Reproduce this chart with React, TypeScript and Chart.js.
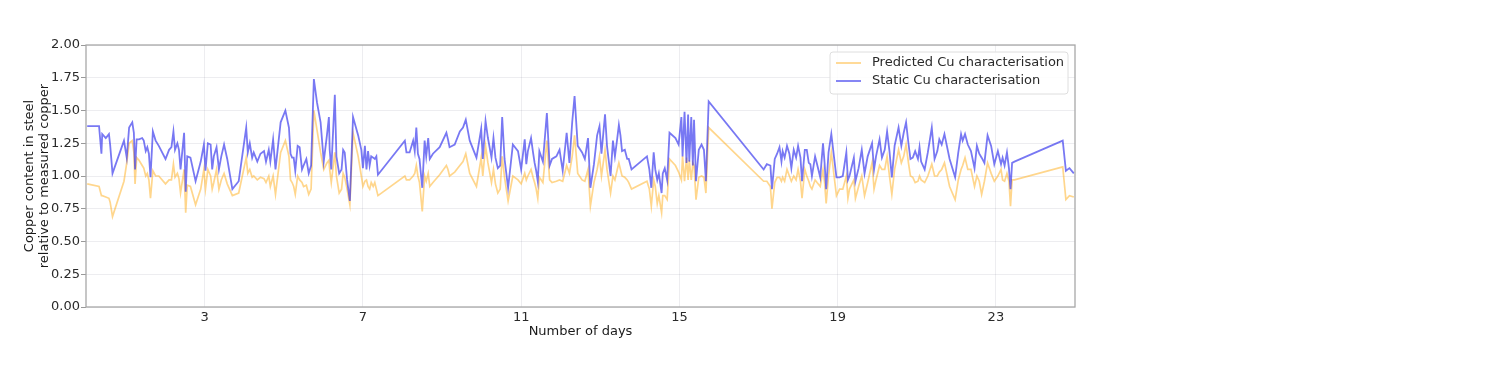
import React, { useEffect, useRef } from "react";
import { Chart, registerables } from "chart.js";

Chart.register(...registerables);

// Time axis (days) shared by both series
const days = [
  0.03, 0.33, 0.39, 0.41, 0.5, 0.58, 0.61, 0.67, 0.96, 1.03,
  1.09, 1.17, 1.21, 1.24, 1.28, 1.34, 1.42, 1.46, 1.51, 1.55,
  1.59, 1.63, 1.69, 1.76, 1.84, 2.01, 2.1, 2.16, 2.21, 2.25,
  2.31, 2.35, 2.39, 2.48, 2.52, 2.56, 2.64, 2.77, 2.9, 2.98,
  3.02, 3.08, 3.15, 3.19, 3.23, 3.3, 3.36, 3.42, 3.49, 3.57,
  3.7, 3.86, 4.05, 4.09, 4.14, 4.2, 4.24, 4.33, 4.41, 4.5,
  4.55, 4.62, 4.66, 4.73, 4.79, 4.92, 5.04, 5.13, 5.17, 5.21,
  5.25, 5.29, 5.35, 5.4, 5.46, 5.5, 5.57, 5.63, 5.69, 5.76,
  5.84, 5.93, 6.01, 6.09, 6.14, 6.16, 6.2, 6.29, 6.33, 6.4,
  6.46, 6.5, 6.54, 6.6, 6.67, 6.75, 6.88, 6.96, 7.0, 7.05,
  7.09, 7.13, 7.17, 7.21, 7.26, 7.3, 7.34, 7.38, 8.06, 8.1,
  8.18, 8.27, 8.31, 8.35, 8.39, 8.43, 8.5, 8.56, 8.6, 8.65,
  8.69, 8.77, 8.94, 9.11, 9.15, 9.19, 9.32, 9.45, 9.53, 9.6,
  9.7, 9.87, 9.99, 10.03, 10.1, 10.16, 10.25, 10.3, 10.35, 10.41,
  10.47, 10.52, 10.58, 10.67, 10.79, 10.92, 11.0, 11.09, 11.13, 11.17,
  11.25, 11.3, 11.34, 11.38, 11.42, 11.46, 11.55, 11.65, 11.72, 11.78,
  11.89, 11.97, 12.05, 12.15, 12.22, 12.29, 12.35, 12.43, 12.54, 12.61,
  12.69, 12.75, 12.84, 12.92, 12.98, 13.03, 13.12, 13.17, 13.26, 13.32,
  13.37, 13.43, 13.47, 13.51, 13.55, 13.62, 13.68, 13.72, 13.79, 14.18,
  14.24, 14.29, 14.35, 14.39, 14.44, 14.48, 14.55, 14.58, 14.63, 14.69,
  14.75, 14.9, 14.98, 15.05, 15.08, 15.13, 15.18, 15.22, 15.25, 15.3,
  15.34, 15.37, 15.42, 15.49, 15.56, 15.62, 15.67, 15.74, 17.13, 17.21,
  17.3, 17.34, 17.41, 17.47, 17.53, 17.58, 17.61, 17.66, 17.72, 17.78,
  17.83, 17.89, 17.95, 18.0, 18.06, 18.1, 18.17, 18.22, 18.27, 18.31,
  18.35, 18.43, 18.48, 18.56, 18.63, 18.67, 18.71, 18.77, 18.84, 18.91,
  18.97, 19.05, 19.13, 19.22, 19.26, 19.3, 19.41, 19.45, 19.53, 19.61,
  19.68, 19.76, 19.87, 19.92, 19.97, 20.06, 20.12, 20.19, 20.25, 20.31,
  20.37, 20.44, 20.54, 20.61, 20.67, 20.73, 20.79, 20.84, 20.9, 20.96,
  21.03, 21.07, 21.11, 21.2, 21.28, 21.38, 21.45, 21.52, 21.57, 21.63,
  21.7, 21.83, 21.97, 22.05, 22.12, 22.16, 22.22, 22.29, 22.37, 22.46,
  22.52, 22.58, 22.64, 22.71, 22.79, 22.88, 22.96, 23.05, 23.13, 23.17,
  23.22, 23.28, 23.33, 23.37, 23.41, 23.47, 24.69, 24.77, 24.86, 24.97,
];

// Static Cu characterisation (blue)
const staticCu = [
  1.38, 1.38, 1.17, 1.32, 1.29, 1.32, 1.24, 1.02, 1.27, 1.14,
  1.37, 1.41, 1.33, 1.05, 1.28, 1.28, 1.29, 1.27, 1.19, 1.22,
  1.17, 0.99, 1.34, 1.27, 1.23, 1.13, 1.2, 1.22, 1.34, 1.2,
  1.25, 1.2, 1.05, 1.33, 0.88, 1.15, 1.14, 0.96, 1.11, 1.24,
  1.04, 1.25, 1.24, 1.05, 1.15, 1.22, 1.05, 1.15, 1.24, 1.13,
  0.9, 0.96, 1.37, 1.18, 1.25, 1.14, 1.18, 1.11, 1.17, 1.19,
  1.11, 1.2, 1.11, 1.28, 1.05, 1.41, 1.5, 1.37, 1.17, 1.14,
  1.14, 1.04, 1.23, 1.22, 1.05, 1.08, 1.13, 1.02, 1.08, 1.74,
  1.56, 1.41, 1.11, 1.31, 1.45, 1.2, 1.05, 1.62, 1.15, 1.02,
  1.05, 1.2, 1.18, 0.97, 0.81, 1.45, 1.31, 1.2, 1.06, 1.23,
  1.05, 1.19, 1.08, 1.15, 1.14, 1.13, 1.15, 1.01, 1.27, 1.18,
  1.18, 1.27, 1.19, 1.37, 1.17, 1.13, 0.91, 1.27, 1.15, 1.29,
  1.13, 1.17, 1.22, 1.33, 1.28, 1.22, 1.24, 1.34, 1.37, 1.43,
  1.27, 1.14, 1.36, 1.13, 1.42, 1.29, 1.14, 1.29, 1.14, 1.06,
  1.08, 1.45, 1.13, 0.91, 1.24, 1.19, 1.05, 1.28, 1.09, 1.19,
  1.29, 1.18, 1.1, 1.04, 0.96, 1.19, 1.11, 1.48, 1.08, 1.13,
  1.15, 1.2, 1.04, 1.33, 1.1, 1.41, 1.61, 1.23, 1.18, 1.13,
  1.29, 0.91, 1.09, 1.31, 1.38, 1.17, 1.47, 1.23, 1.0, 1.27,
  1.15, 1.29, 1.39, 1.31, 1.19, 1.2, 1.13, 1.13, 1.05, 1.15,
  1.05, 0.91, 1.18, 1.05, 0.97, 1.02, 0.87, 1.02, 1.06, 0.97,
  1.33, 1.29, 1.24, 1.45, 1.15, 1.49, 1.1, 1.47, 1.11, 1.45,
  1.08, 1.43, 0.96, 1.2, 1.24, 1.2, 0.96, 1.57, 1.05, 1.09,
  1.08, 0.9, 1.13, 1.17, 1.22, 1.11, 1.19, 1.14, 1.23, 1.17,
  1.06, 1.2, 1.14, 1.23, 1.14, 0.96, 1.2, 1.2, 1.1, 1.09,
  1.0, 1.15, 1.09, 0.99, 1.25, 1.1, 0.9, 1.18, 1.32, 1.14,
  0.99, 0.99, 1.0, 1.18, 0.97, 1.0, 1.14, 0.96, 1.06, 1.2,
  1.02, 1.15, 1.25, 1.05, 1.15, 1.28, 1.14, 1.2, 1.34, 1.19,
  0.99, 1.23, 1.37, 1.23, 1.33, 1.41, 1.25, 1.13, 1.14, 1.19,
  1.13, 1.22, 1.11, 1.05, 1.18, 1.37, 1.13, 1.19, 1.28, 1.24,
  1.32, 1.13, 0.99, 1.18, 1.32, 1.27, 1.32, 1.24, 1.19, 1.06,
  1.23, 1.17, 1.14, 1.1, 1.31, 1.23, 1.09, 1.19, 1.09, 1.14,
  1.08, 1.18, 1.06, 0.9, 1.1, 1.11, 1.27, 1.04, 1.06, 1.02,
];

// Predicted Cu characterisation (orange)
const predictedCu = [
  0.94, 0.92, 0.85, 0.85, 0.84, 0.83, 0.8, 0.69, 0.96, 1.1,
  1.25, 1.27, 1.18, 0.94, 1.14, 1.12, 1.08, 1.06, 1.0, 1.02,
  0.97, 0.83, 1.04, 1.0, 1.0, 0.94, 0.97, 0.97, 1.09, 0.99,
  1.02, 0.98, 0.87, 1.05, 0.72, 0.93, 0.92, 0.78, 0.9, 1.05,
  0.9, 1.05, 1.0, 0.9, 0.95, 1.05, 0.9, 0.97, 1.02, 0.94,
  0.85, 0.87, 1.14, 1.02, 1.05, 0.99, 1.0, 0.97, 0.99, 0.98,
  0.95, 1.0, 0.92, 1.0, 0.86, 1.18, 1.27, 1.15, 0.97, 0.95,
  0.92, 0.86, 1.0, 0.97, 0.95, 0.92, 0.93, 0.86, 0.9, 1.5,
  1.35, 1.18, 1.05, 1.1, 1.12, 1.05, 0.95, 1.18, 1.0, 0.87,
  0.9, 1.02, 0.99, 0.9, 0.78, 1.33, 1.15, 1.0, 0.92, 0.96,
  0.97, 0.92, 0.9, 0.95, 0.92, 0.95, 0.9, 0.85, 1.0, 0.97,
  0.97, 1.0, 1.02, 1.08, 1.0, 0.95, 0.73, 1.0, 0.96, 1.02,
  0.92, 0.95, 1.01, 1.08, 1.05, 1.0, 1.03, 1.08, 1.11, 1.17,
  1.02, 0.92, 1.14, 1.0, 1.23, 1.1, 0.95, 1.05, 0.94, 0.87,
  0.9, 1.15, 0.99, 0.81, 1.0, 0.97, 0.94, 1.02, 0.97, 1.0,
  1.05, 0.99, 0.95, 0.9, 0.83, 0.99, 0.95, 1.27, 0.97, 0.95,
  0.96, 0.97, 0.96, 1.08, 1.02, 1.15, 1.31, 1.02, 0.97, 0.96,
  1.05, 0.77, 0.95, 1.05, 1.15, 1.0, 1.2, 1.05, 0.87, 1.0,
  0.97, 1.05, 1.1, 1.05, 1.0, 0.99, 0.97, 0.95, 0.9, 0.96,
  0.9, 0.77, 0.97, 0.92, 0.79, 0.85, 0.72, 0.85, 0.85, 0.82,
  1.13, 1.08, 1.03, 0.97, 1.15, 0.96, 1.14, 0.97, 1.12, 0.97,
  1.1, 1.08, 0.82, 0.99, 1.0, 0.99, 0.87, 1.37, 0.96, 0.96,
  0.92, 0.75, 0.95, 0.99, 0.99, 0.96, 0.99, 0.96, 1.05, 1.0,
  0.96, 1.0, 0.97, 1.05, 0.96, 0.83, 1.05, 1.0, 0.96, 0.92,
  0.9, 0.97, 0.95, 0.92, 1.05, 0.95, 0.79, 1.0, 1.18, 1.0,
  0.85, 0.9, 0.9, 1.0, 0.83, 0.9, 0.97, 0.83, 0.92, 1.0,
  0.85, 0.95, 1.1, 0.9, 0.97, 1.08, 1.05, 1.05, 1.15, 1.0,
  0.86, 1.05, 1.2, 1.1, 1.15, 1.24, 1.1, 1.0, 0.99, 0.95,
  0.96, 1.0, 0.97, 0.95, 1.0, 1.09, 1.0, 1.0, 1.03, 1.05,
  1.1, 0.92, 0.82, 0.97, 1.05, 1.08, 1.14, 1.05, 1.05, 0.92,
  1.0, 0.96, 0.86, 0.96, 1.1, 1.02, 0.96, 1.0, 1.05, 0.97,
  0.96, 1.02, 0.96, 0.77, 0.97, 0.97, 1.07, 0.82, 0.85, 0.84,
];

const xTickValues = [3, 7, 11, 15, 19, 23];
const seriesLabels = ["Predicted Cu characterisation", "Static Cu characterisation"];
const seriesColors = ["rgba(255,165,0,0.45)", "rgba(30,30,235,0.6)"];
const yTitleLines = ["Copper content in steel", "relative to measured copper"];
const xTitle = "Number of days";

const FONT = "'DejaVu Sans', sans-serif";
const FONT_SIZE = 13;

export default function App() {
  const ref = useRef<HTMLCanvasElement>(null);

  useEffect(() => {
    if (!ref.current) return;

    const framePlugin = {
      id: "frame",
      afterDatasetsDraw(chart: any) {
        const { ctx, chartArea } = chart;
        ctx.save();
        ctx.strokeStyle = "#a8a8a8";
        ctx.lineWidth = 1.3;
        ctx.strokeRect(chartArea.left, chartArea.top, chartArea.right - chartArea.left, chartArea.bottom - chartArea.top);
        ctx.restore();
      },
    };

    const legendPlugin = {
      id: "legendBox",
      afterDraw(chart: any) {
        const { ctx } = chart;
        ctx.save();
        const x = 822, y = 44, w = 238, h = 42, r = 3;
        ctx.beginPath();
        ctx.moveTo(x + r, y);
        ctx.lineTo(x + w - r, y);
        ctx.quadraticCurveTo(x + w, y, x + w, y + r);
        ctx.lineTo(x + w, y + h - r);
        ctx.quadraticCurveTo(x + w, y + h, x + w - r, y + h);
        ctx.lineTo(x + r, y + h);
        ctx.quadraticCurveTo(x, y + h, x, y + h - r);
        ctx.lineTo(x, y + r);
        ctx.quadraticCurveTo(x, y, x + r, y);
        ctx.closePath();
        ctx.fillStyle = "rgba(255,255,255,0.85)";
        ctx.fill();
        ctx.strokeStyle = "#dedede";
        ctx.lineWidth = 1;
        ctx.stroke();
        ctx.font = `${FONT_SIZE}px ${FONT}`;
        ctx.textBaseline = "middle";
        ctx.fillStyle = "#2a2a2a";
        const rows = [55, 73];
        seriesLabels.forEach((label, i) => {
          ctx.strokeStyle = seriesColors[i];
          ctx.lineWidth = 1.8;
          ctx.beginPath();
          ctx.moveTo(828, rows[i]);
          ctx.lineTo(853, rows[i]);
          ctx.stroke();
          ctx.fillText(label, 864, rows[i]);
        });
        ctx.restore();
      },
    };

    const chart = new Chart(ref.current, {
      type: "line",
      data: {
        datasets: [
          {
            label: seriesLabels[0],
            data: days.map((d, i) => ({ x: d, y: predictedCu[i] })),
            borderColor: seriesColors[0],
            borderWidth: 1.7,
            pointRadius: 0,
            tension: 0,
            order: 2,
          },
          {
            label: seriesLabels[1],
            data: days.map((d, i) => ({ x: d, y: staticCu[i] })),
            borderColor: seriesColors[1],
            borderWidth: 1.8,
            pointRadius: 0,
            tension: 0,
            order: 1,
          },
        ],
      },
      options: {
        animation: false,
        responsive: true,
        maintainAspectRatio: false,
        layout: { padding: { left: 0, right: 417, top: 37, bottom: 0 } },
        plugins: {
          legend: { display: false },
          tooltip: { enabled: false },
        },
        scales: {
          x: {
            type: "linear",
            min: 0,
            max: 25,
            afterBuildTicks: (scale: any) => {
              scale.ticks = xTickValues.map((v) => ({ value: v }));
            },
            afterFit: (scale: any) => {
              scale.height = 67;
            },
            ticks: {
              autoSkip: false,
              maxRotation: 0,
              padding: 3,
              color: "#2a2a2a",
              font: { family: FONT, size: FONT_SIZE },
              callback: (v: any) => String(v),
            },
            grid: { color: "rgba(0,0,40,0.07)", drawTicks: false },
            border: { display: false },
            title: {
              display: true,
              text: xTitle,
              color: "#1a1a1a",
              font: { family: FONT, size: FONT_SIZE },
              padding: { top: 0, bottom: 34.5 },
            },
          },
          y: {
            min: 0,
            max: 2,
            afterFit: (scale: any) => {
              scale.width = 78;
            },
            ticks: {
              stepSize: 0.25,
              padding: 1,
              color: "#2a2a2a",
              font: { family: FONT, size: FONT_SIZE },
              callback: (v: any) => Number(v).toFixed(2),
            },
            grid: { color: "rgba(0,0,40,0.07)", tickLength: 5, tickColor: "#999" },
            border: { display: false },
            title: {
              display: true,
              text: yTitleLines,
              color: "#1a1a1a",
              font: { family: FONT, size: FONT_SIZE, lineHeight: 1.1 },
              padding: { top: 14.8, bottom: 0 },
            },
          },
        },
      },
      plugins: [framePlugin, legendPlugin],
    } as any);

    return () => chart.destroy();
  }, []);

  return (
    <div style={{ width: 1484, height: 366, position: "relative" }}>
      <canvas ref={ref} />
    </div>
  );
}
